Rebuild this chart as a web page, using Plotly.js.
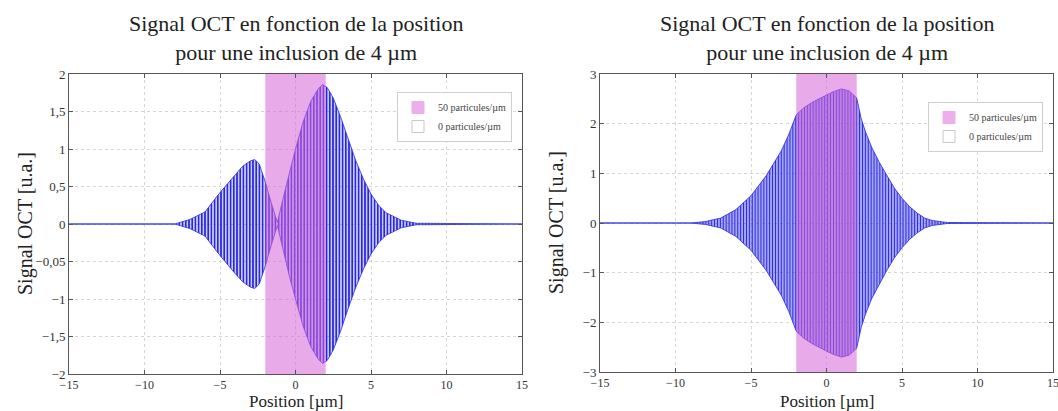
<!DOCTYPE html>
<html>
<head>
<meta charset="utf-8">
<script src="https://cdn.plot.ly/plotly-3.0.1.min.js"></script>
<style>html,body{margin:0;padding:0;background:#fff}#chart{width:1058px;height:411px}</style>
</head>
<body>
<div id="chart"></div>
<script>
// ---- data ----
const titleText = "Signal OCT en fonction de la position<br>pour une inclusion de 4 µm";
const xTitle = "Position [µm]";
const yTitle = "Signal OCT [u.a.]";
const legendInclusion = "50 particules/µm";
const legendMatrix = "0 particules/µm";
const inclusion = [-2, 2];           // µm
const xRange = [-15, 15];
const xTicks = [-15, -10, -5, 0, 5, 10, 15];
const xTickText = ["−15", "−10", "−5", "0", "5", "10", "15"];

// left chart: signal envelope (amplitude of the oscillation)
const leftRange = [-2, 2];
const leftTicks = [-2, -1.5, -1, -0.5, 0, 0.5, 1, 1.5, 2];
const leftTickText = ["−2", "−1,5", "−1", "−0,05", "0", "0,5", "1", "1,5", "2"];
const leftX   = [-15, -8, -7, -6, -5, -4, -3.5, -3, -2.7, -2.4, -2, -1.6, -1.2, -0.8, -0.4, 0, 0.5, 1, 1.5, 1.8, 2.1, 2.5, 3, 3.5, 4, 4.5, 5, 5.5, 6, 7, 8, 15];
const leftEnv = [0, 0, 0.06, 0.16, 0.42, 0.66, 0.77, 0.84, 0.86, 0.8, 0.56, 0.28, 0.02, 0.36, 0.7, 1.0, 1.36, 1.63, 1.8, 1.86, 1.82, 1.68, 1.42, 1.12, 0.84, 0.6, 0.4, 0.25, 0.15, 0.05, 0.01, 0];

// right chart
const rightRange = [-3, 3];
const rightTicks = [-3, -2, -1, 0, 1, 2, 3];
const rightTickText = ["−3", "−2", "−1", "0", "1", "2", "3"];
const rightX   = [-15, -9, -8, -7, -6, -5, -4, -3, -2.5, -2, -1.5, -1, -0.5, 0, 0.5, 1, 1.5, 2, 2.3, 2.6, 3, 3.5, 4, 4.5, 5, 5.5, 6, 6.5, 7, 8, 15];
const rightEnv = [0, 0, 0.03, 0.1, 0.27, 0.55, 0.95, 1.45, 1.78, 2.18, 2.32, 2.42, 2.5, 2.58, 2.65, 2.7, 2.66, 2.52, 2.1, 1.82, 1.52, 1.22, 0.95, 0.7, 0.5, 0.33, 0.2, 0.1, 0.05, 0.01, 0];

// ---- styling ----
const FONT = "Liberation Serif, Times New Roman, serif";
const BLUE = "rgb(40,40,225)";
const PINK = "rgba(215,100,215,0.55)";
const PINK_SOLID = "rgb(236,175,236)";

function envelopePolygon(xs, env) {
  const px = xs.concat(xs.slice().reverse());
  const py = env.concat(env.slice().reverse().map(v => -v));
  return {px, py};
}

function panelTraces(xs, env, yr, xa, ya, legendName, patSize) {
  const poly = envelopePolygon(xs, env);
  // legend-only entries (patches)
  const legIncl = {
    type: "bar", xaxis: xa, yaxis: ya, x: [null], y: [null],
    marker: {color: PINK_SOLID, line: {color: PINK_SOLID, width: 1}},
    name: legendInclusion, legend: legendName, legendrank: 1, hoverinfo: "skip"
  };
  const legMatrix = {
    type: "bar", xaxis: xa, yaxis: ya, x: [null], y: [null],
    marker: {color: "#ffffff", line: {color: "#c8c8c8", width: 1}},
    name: legendMatrix, legend: legendName, legendrank: 2, hoverinfo: "skip"
  };
  const signal = {
    type: "scatter", mode: "lines", xaxis: xa, yaxis: ya,
    x: poly.px, y: poly.py, fill: "toself",
    fillcolor: "rgba(255,255,255,0)",
    fillpattern: {shape: "|", size: patSize, solidity: 0.62, fgcolor: BLUE, bgcolor: "rgba(255,255,255,0)"},
    line: {color: BLUE, width: 0.8},
    showlegend: false, hoverinfo: "skip"
  };
  const incl = {
    type: "scatter", mode: "lines", xaxis: xa, yaxis: ya,
    x: [inclusion[0], inclusion[1], inclusion[1], inclusion[0], inclusion[0]],
    y: [yr[0], yr[0], yr[1], yr[1], yr[0]],
    fill: "toself", fillcolor: PINK, line: {width: 0, color: PINK},
    showlegend: false, hoverinfo: "skip"
  };
  return [legIncl, legMatrix, signal, incl];
}

const data = [].concat(
  panelTraces(leftX, leftEnv, leftRange, "x", "y", "legend", 3.2),
  panelTraces(rightX, rightEnv, rightRange, "x2", "y2", "legend2", 2.9)
);

function xAxis(domain, anchor) {
  return {
    domain: domain, anchor: anchor, range: xRange, tickvals: xTicks, ticktext: xTickText,
    ticks: "inside", ticklen: 4, tickcolor: "#555", showline: true, linecolor: "#555", linewidth: 1,
    mirror: "allticks", showgrid: true, gridcolor: "#d6d6d6", griddash: "dot", zeroline: false,
    tickfont: {family: FONT, size: 12, color: "#333"}, fixedrange: true, ticklabeloverflow: "allow"
  };
}
function yAxis(domain, anchor, range, tv, tt) {
  return {
    domain: domain, anchor: anchor, range: range, tickvals: tv, ticktext: tt,
    ticks: "inside", ticklen: 4, tickcolor: "#555", showline: true, linecolor: "#555", linewidth: 1,
    mirror: "allticks", showgrid: true, gridcolor: "#d6d6d6", griddash: "dot", zeroline: false,
    tickfont: {family: FONT, size: 13, color: "#333"}, fixedrange: true, ticklabeloverflow: "allow"
  };
}

const W = 1058, H = 411;
const L1 = [69 / W, 522 / W], L2 = [600 / W, 1053 / W];
const Y1 = [(H - 374) / H, (H - 74) / H], Y2 = [(H - 372) / H, (H - 74) / H];

function legendCfg(xr, yt) {
  return {
    x: xr, y: yt, xref: "paper", yref: "paper", xanchor: "right", yanchor: "top",
    bgcolor: "#fff", bordercolor: "#cfcfcf", borderwidth: 1,
    font: {family: FONT, size: 10, color: "#444"}, tracegroupgap: 0, itemwidth: 30
  };
}

const ann = [];
function addTitles(xd, yd) {
  const cx = (xd[0] + xd[1]) / 2, cy = (yd[0] + yd[1]) / 2;
  ann.push({text: titleText, x: cx, y: yd[1] + 7 / H, xref: "paper", yref: "paper",
    xanchor: "center", yanchor: "bottom", showarrow: false,
    font: {family: FONT, size: 22, color: "#222"}});
  ann.push({text: xTitle, x: cx, y: 0, xref: "paper", yref: "paper",
    xanchor: "center", yanchor: "bottom", showarrow: false, yshift: -1, borderpad: 0,
    font: {family: FONT, size: 17, color: "#222"}});
  ann.push({text: yTitle, x: xd[0] - 44 / W, y: cy, xref: "paper", yref: "paper",
    xanchor: "center", yanchor: "middle", showarrow: false, textangle: -90,
    font: {family: FONT, size: 20, color: "#222"}});
}
addTitles(L1, Y1);
addTitles(L2, Y2);

const layout = {
  width: W, height: H, margin: {l: 0, r: 0, t: 0, b: 0},
  paper_bgcolor: "#fff", plot_bgcolor: "#fff",
  font: {family: FONT}, barmode: "overlay",
  xaxis: xAxis(L1, "y"), yaxis: yAxis(Y1, "x", leftRange, leftTicks, leftTickText),
  xaxis2: xAxis(L2, "y2"), yaxis2: yAxis(Y2, "x2", rightRange, rightTicks, rightTickText),
  legend: legendCfg(512 / W, (H - 92) / H),
  legend2: legendCfg(1043 / W, (H - 102) / H),
  annotations: ann
};

Plotly.newPlot("chart", data, layout, {displayModeBar: false, staticPlot: true});
</script>
</body>
</html>
